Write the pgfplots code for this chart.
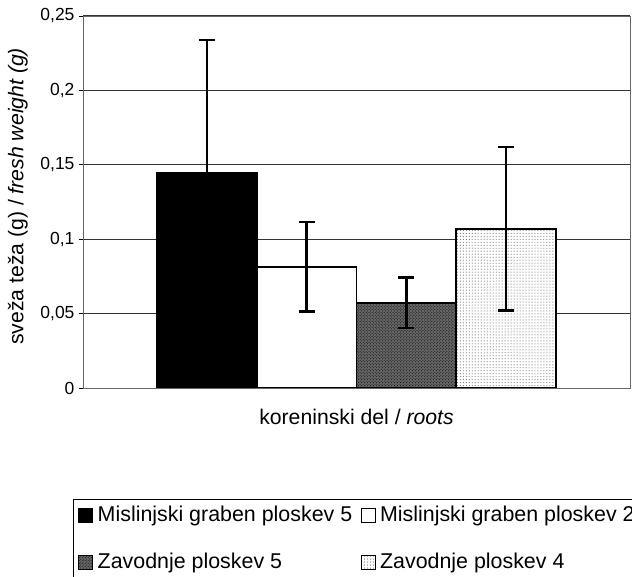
\documentclass[border=0pt]{standalone}
\usepackage{fontspec}
\setmainfont{Liberation Sans}
\usepackage{pgfplots}
\pgfplotsset{compat=1.18}
\usetikzlibrary{patterns}
\begin{document}
\begin{tikzpicture}
\begin{axis}[
  at={(83bp,189bp)}, anchor=south west,
  scale only axis, width=547bp, height=372bp,
  ybar=0pt, bar width=0.3647,
  xmin=-1, xmax=1, xtick=\empty,
  ymin=0, ymax=0.25, ytick={0,0.05,0.1,0.15,0.2,0.25},
  scaled y ticks=false,
  yticklabel={\pgfmathprintnumber[fixed, precision=2, use comma, assume math mode=true]{\tick}},
  yticklabel style={font=\fontsize{17.5bp}{19bp}\selectfont, xshift=-1bp},
  tick align=outside, major tick length=4bp, ytick pos=left,
  tick style={black, line width=0.8bp},
  ymajorgrids, grid style={black!80, line width=1bp},
  axis line style={black!60, line width=0.8bp},
  xlabel={koreninski del / \textit{roots}},
  ylabel={sveža teža (g) / \textit{fresh weight (g)}},
  label style={font=\fontsize{21.2bp}{24bp}\selectfont},
  xlabel style={at={(axis description cs:0.5,-0.0779)}, anchor=center},
  ylabel style={at={(axis description cs:-0.119,0.515)}, anchor=center},
  legend columns=2, legend cell align=left,
  legend style={at={(axis description cs:-0.0183,-0.298)}, anchor=north west,
    draw=black, line width=0.8bp, inner xsep=5bp, inner ysep=6bp,
    column sep=0pt, row sep=26bp,
    font=\fontsize{21.4bp}{24bp}\selectfont,
    nodes={inner sep=0pt, text height=16bp, text depth=5bp}},
  legend image code/.code={\draw[#1, line width=0.9bp, draw=black] (0bp,-7bp) rectangle (14bp,7bp); \path (18bp,0bp);},
  error bars/y dir=both, error bars/y explicit,
  error bars/error mark options={rotate=90, mark size=8bp, line width=2.6bp, black},
  error bars/error bar style={line width=2.6bp, black},
]
\addplot[draw=black, line width=1.8bp, fill=black] coordinates {(0,0.1445) +- (0,0.0895)};
\addplot[draw=black, line width=1.8bp, fill=white] coordinates {(0,0.0815) +- (0,0.0300)};
\addplot[draw=black, line width=1.8bp, fill=black!60, postaction={pattern=crosshatch dots, pattern color=black}] coordinates {(0,0.0573) +- (0,0.0170)};
\addplot[draw=black, line width=1.8bp, fill=white, postaction={pattern=dots, pattern color=black!75}] coordinates {(0,0.1070) +- (0,0.0550)};
\legend{\makebox[263bp][l]{Mislinjski graben ploskev 5}, Mislinjski graben ploskev 2, \makebox[263bp][l]{Zavodnje ploskev 5}, Zavodnje ploskev 4}
\end{axis}
\pgfresetboundingbox
\path[use as bounding box] (0,0) rectangle (632bp,577bp);
\end{tikzpicture}
\end{document}
